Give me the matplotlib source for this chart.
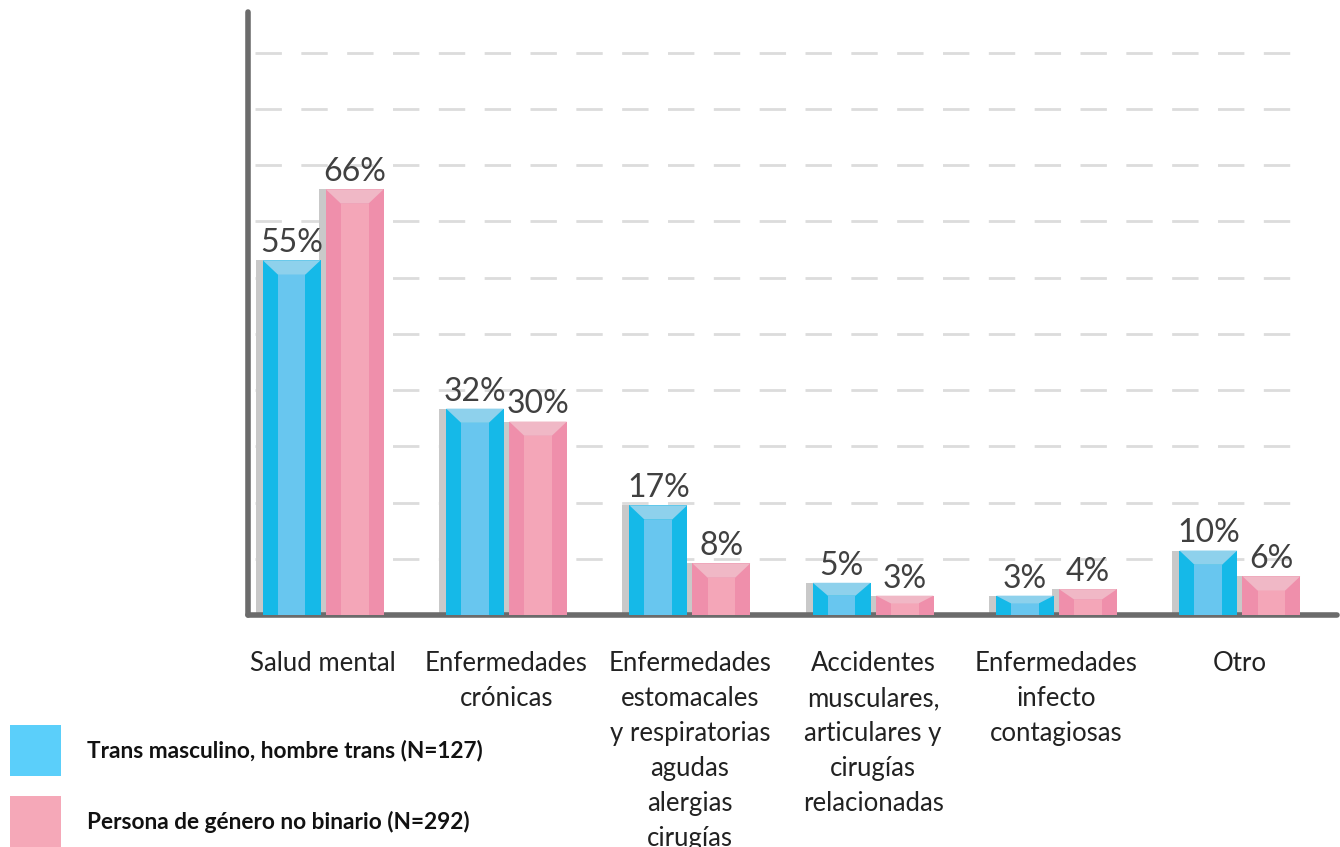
import matplotlib
matplotlib.use("Agg")
import matplotlib.pyplot as plt
from matplotlib.patches import Polygon, Rectangle
import numpy as np

categories = ["Salud mental", "Enfermedades\ncrónicas",
              "Enfermedades\nestomacales\ny respiratorias\nagudas\nalergias\ncirugías",
              "Accidentes\nmusculares,\narticulares y\ncirugías\nrelacionadas",
              "Enfermedades\ninfecto\ncontagiosas", "Otro"]
trans_masc = [55, 32, 17, 5, 3, 10]
no_binario = [66, 30, 8, 3, 4, 6]
series_names = ["Trans masculino, hombre trans (N=127)",
                "Persona de género no binario (N=292)"]

FONT = ["Lato", "DejaVu Sans"]
plt.rcParams['font.family'] = FONT

fig = plt.figure(figsize=(13.4, 8.47), dpi=100)
ax = fig.add_axes([248/1340, 1-615/847, (1337-248)/1340, (615-12)/847])

ymax = 93.5
ax.set_ylim(0, ymax)
ax.set_xlim(-0.41, 5.53)

# grid
step = 8.72
for k in range(1, 11):
    ax.axhline(k*step, xmin=0.006, xmax=0.969, color="#dcdcdc", lw=2,
               dashes=(9.5, 7), zorder=0)

styles = [
    dict(side="#15b9e8", center="#68c6ef", top="#8ed1ec"),
    dict(side="#ef8fab", center="#f4a6b8", top="#f0b8c6"),
]
width = 0.315
offsets = [-0.172, 0.172]
shadow_w = 0.038
side_frac = 0.26
x = np.arange(len(categories))

for s, (vals, st, off) in enumerate(zip([trans_masc, no_binario], styles, offsets)):
    for xi, v in zip(x, vals):
        cx = xi + off
        left = cx - width/2
        bev = min(2.2, 0.4*v)
        # shadow
        ax.add_patch(Rectangle((left - shadow_w, 0), shadow_w, v, color="#c9c9c9", lw=0, zorder=2))
        # side
        ax.add_patch(Rectangle((left, 0), width, v, color=st["side"], lw=0, zorder=3))
        # center
        sw = width*side_frac
        ax.add_patch(Rectangle((left+sw, 0), width-2*sw, v-bev, color=st["center"], lw=0, zorder=4))
        # bevel
        ax.add_patch(Polygon([(left, v), (left+width, v), (left+width-sw, v-bev), (left+sw, v-bev)],
                             closed=True, color=st["top"], lw=0, zorder=4))
        ax.annotate(f"{v}%", (cx, v), xytext=(0, 1.5), textcoords="offset points",
                    ha="center", va="bottom", fontsize=23, color="#404040", zorder=5)

for sp in ["top", "right"]:
    ax.spines[sp].set_visible(False)
for sp in ["left", "bottom"]:
    ax.spines[sp].set_color("#6b6b6b")
    ax.spines[sp].set_linewidth(4)
    ax.spines[sp].set_capstyle("round")
ax.set_yticks([])
ax.set_xticks(x)
ax.set_xticklabels(categories, fontsize=18.5, color="#222222", linespacing=1.5, va="top")
ax.tick_params(axis="x", length=0, pad=26)

# legend
for i, (name, st) in enumerate(zip(series_names, ["#5bcffa", "#f5a8b8"])):
    y0 = 1 - [776, 847][i]/847
    fig.patches.append(Rectangle((10/1340, y0), 51/1340, 51/847, transform=fig.transFigure,
                                 color=st, lw=0))
    fig.text(87/1340, 1 - [750, 822][i]/847, name, fontsize=16.3, fontweight="bold",
             color="#111111", va="center", ha="left")

fig.savefig("out.png", dpi=100)
